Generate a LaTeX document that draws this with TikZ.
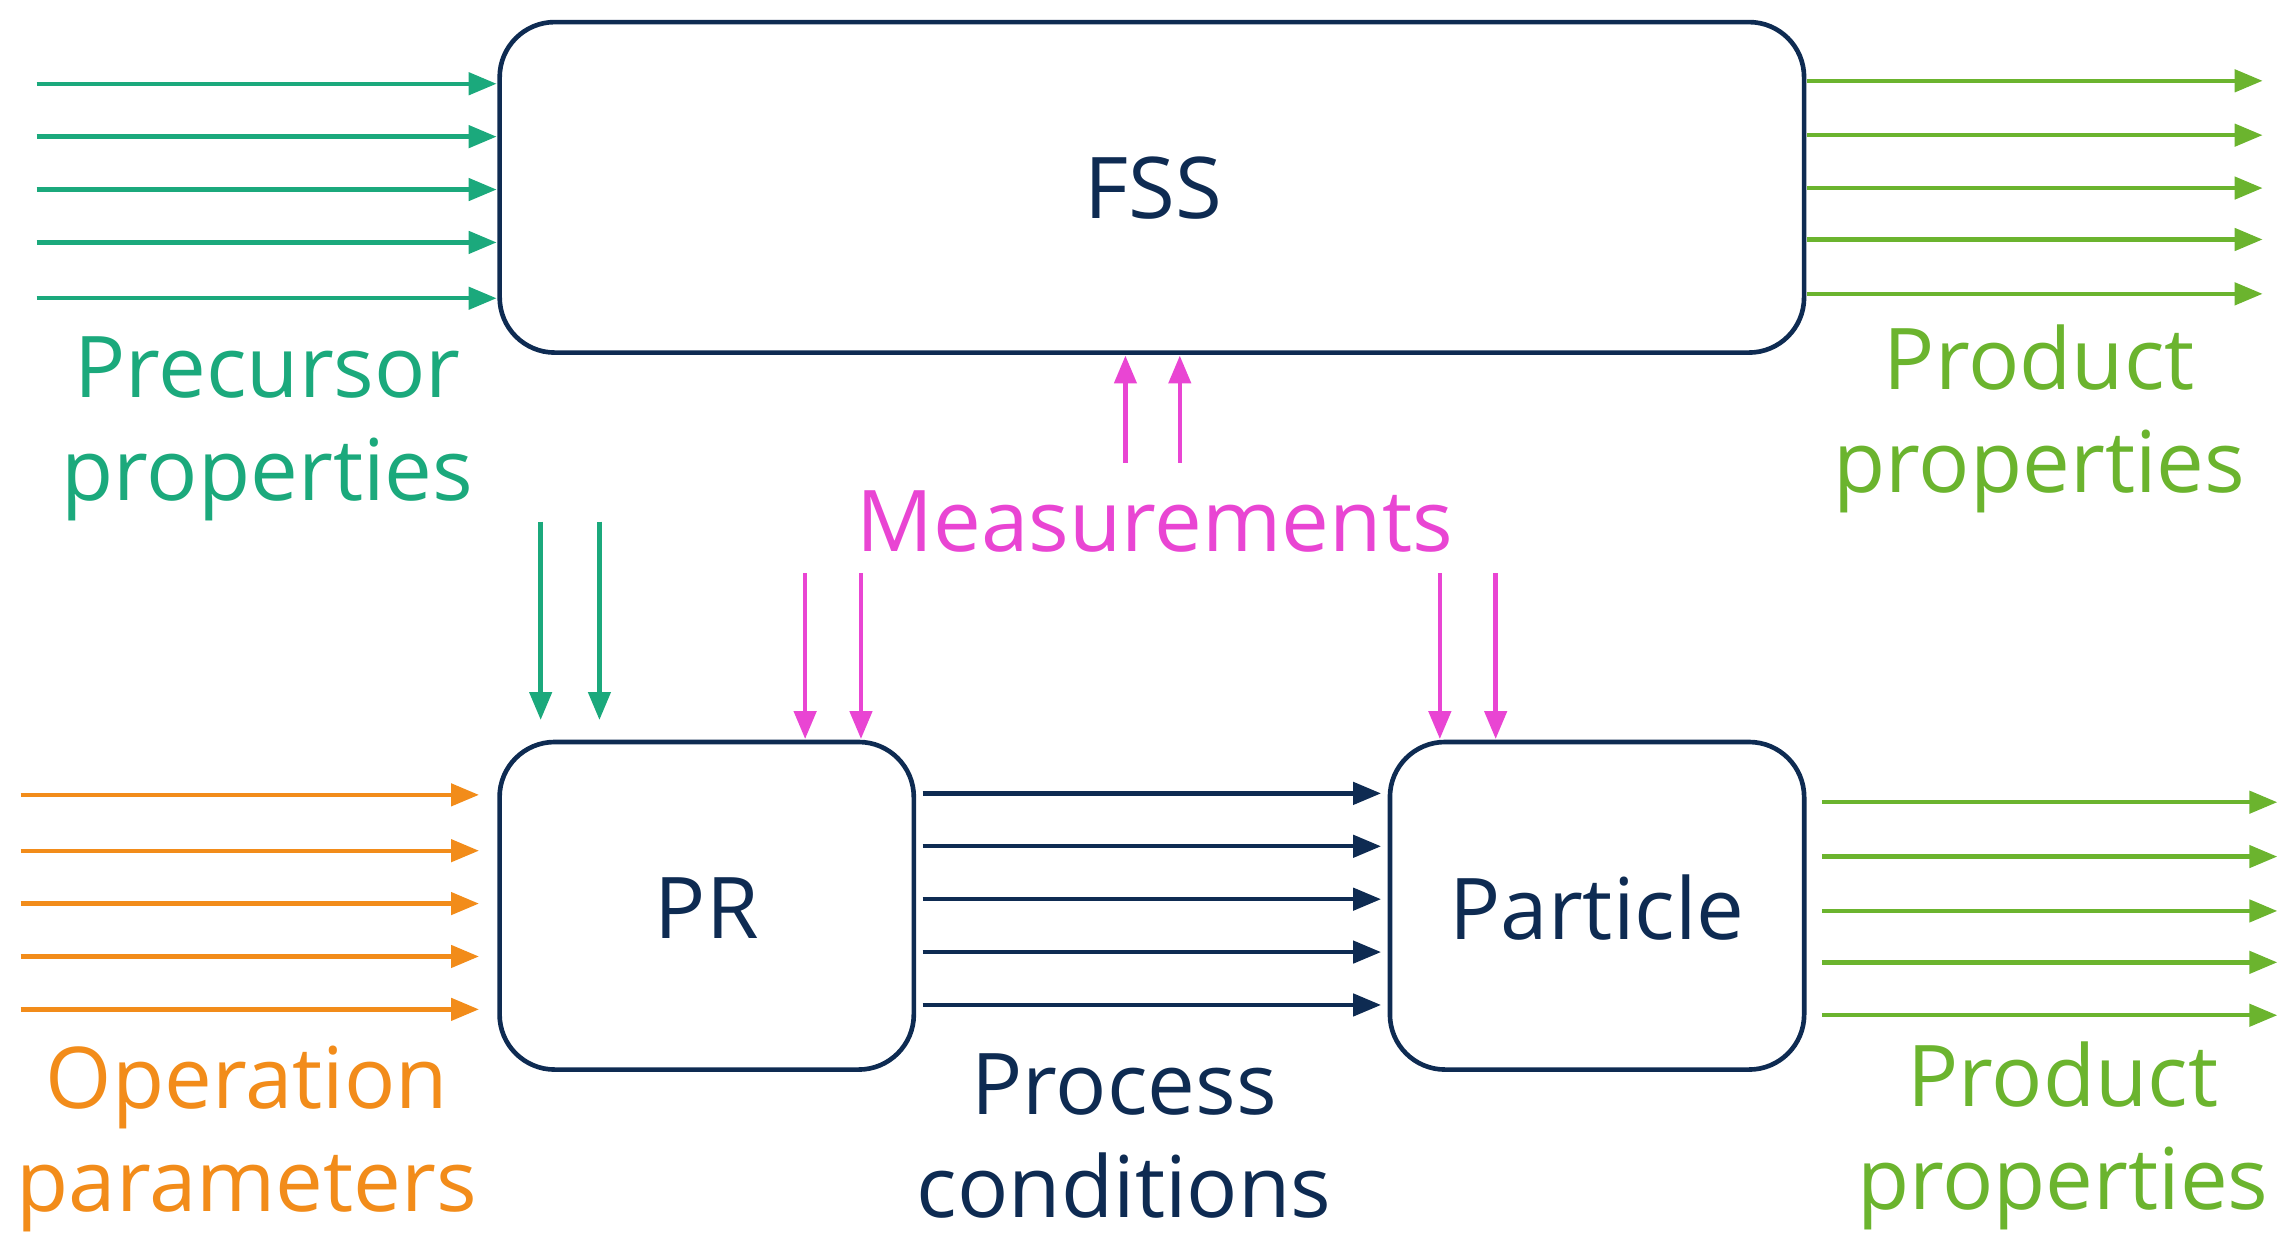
\documentclass[tikz,border=0pt]{standalone}
\usepackage{fontspec}
\setmainfont{Open Sans}
\usetikzlibrary{arrows.meta}
\definecolor{teal1}{HTML}{1BA97C}
\definecolor{lime1}{HTML}{6BB42E}
\definecolor{mag1}{HTML}{E945D3}
\definecolor{ora1}{HTML}{F28C1A}
\definecolor{navy1}{HTML}{0E2B52}
\begin{document}
\begin{tikzpicture}[x=0.02cm,y=-0.02cm,
  box/.style={draw=navy1,line width=1.8pt,rounded corners=0.75cm,inner sep=0pt},
  arr/.style={line width=1.7pt,-{Triangle[length=0.38cm,width=0.3cm]}},
  lbl/.style={font=\fontsize{33}{40}\selectfont,align=center}]
\useasboundingbox (0,0) rectangle (1560,856);
\node[box,minimum width=17.76cm,minimum height=4.5cm] (fss) at (784,127.5) {};
\node[lbl,text=navy1] (fsst) at (785,128) {FSS};
\node[box,minimum width=5.64cm,minimum height=4.46cm] (pr) at (481,616.5) {};
\node[lbl,text=navy1] (prt) at (481,618) {PR};
\node[box,minimum width=5.64cm,minimum height=4.46cm] (pa) at (1087,616.5) {};
\node[lbl,text=navy1] (pat) at (1087,618) {Particle};
\node[lbl,text=teal1] (l1) at (182,292) {Precursor\\properties};
\node[lbl,text=lime1] (l2) at (1388,285) {Product\\properties};
\node[lbl,text=mag1] (l3) at (786,355) {Measurements};
\node[lbl,text=ora1] (l4) at (168,775) {Operation\\parameters};
\node[lbl,text=navy1] (l5) at (765,773) {Process\\conditions};
\node[lbl,text=lime1] (l6) at (1404,773) {Product\\properties};
\foreach \y [count=\i] in {57,93,129,165,203}{
  \coordinate (a\i) at (25,\y); \coordinate (b\i) at (338,\y);
  \draw[arr,teal1] (a\i) -- (b\i);}
\foreach \y [count=\i] in {55,92,128,163,200}{
  \coordinate (c\i) at (1230,\y); \coordinate (d\i) at (1540,\y);
  \draw[arr,lime1] (c\i) -- (d\i);}
\foreach \y [count=\i] in {541,579,615,651,687}{
  \coordinate (e\i) at (14,\y); \coordinate (f\i) at (326,\y);
  \draw[arr,ora1] (e\i) -- (f\i);}
\foreach \y [count=\i] in {540,576,612,648,684}{
  \coordinate (g\i) at (628,\y); \coordinate (h\i) at (940,\y);
  \draw[arr,navy1] (g\i) -- (h\i);}
\foreach \y [count=\i] in {546,583,620,655,691}{
  \coordinate (k\i) at (1240,\y); \coordinate (m\i) at (1550,\y);
  \draw[arr,lime1] (k\i) -- (m\i);}
\foreach \x [count=\i] in {766,803}{
  \coordinate (u\i) at (\x,315); \coordinate (v\i) at (\x,242);
  \draw[arr,mag1] (u\i) -- (v\i);}
\foreach \x [count=\i] in {368,408}{
  \coordinate (p\i) at (\x,355); \coordinate (q\i) at (\x,490);
  \draw[arr,teal1] (p\i) -- (q\i);}
\foreach \x [count=\i] in {548,586,980,1018}{
  \coordinate (r\i) at (\x,390); \coordinate (s\i) at (\x,503);
  \draw[arr,mag1] (r\i) -- (s\i);}
\end{tikzpicture}
\end{document}
